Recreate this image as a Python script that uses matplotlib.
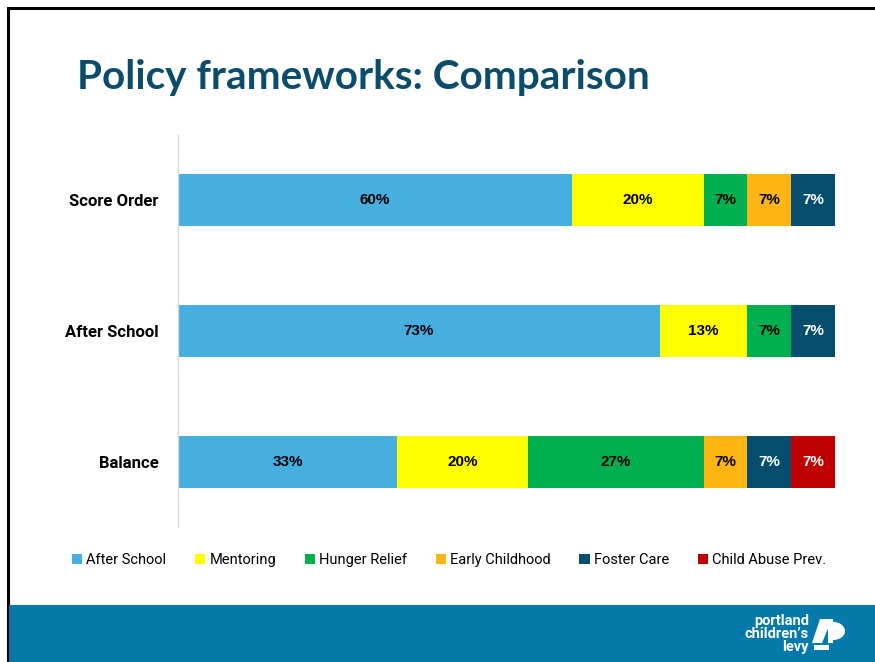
import matplotlib
matplotlib.use("Agg")
import matplotlib.pyplot as plt
from matplotlib.patches import Rectangle, Polygon, Wedge

# frameworks (rows, top to bottom) and program areas (stack order)
frameworks = ["Score Order", "After School", "Balance"]
programs = ["After School", "Mentoring", "Hunger Relief", "Early Childhood",
            "Foster Care", "Child Abuse Prev."]
colors = ["#47AFE0", "#FFFF00", "#00B050", "#FCB614", "#044D6D", "#C00000"]
label_colors = ["black", "black", "black", "black", "white", "white"]

# share of each program area in each framework (%)
score_order = [60.0, 20.0, 6.67, 6.67, 6.67, 0.0]
after_school = [73.33, 13.33, 6.67, 0.0, 6.67, 0.0]
balance = [33.33, 20.0, 26.67, 6.67, 6.67, 6.67]
shares = [score_order, after_school, balance]

W, H = 875, 662
fig = plt.figure(figsize=(W / 100, H / 100), dpi=100)

# slide frame and footer band
fig.patches.append(Rectangle((8 / W, 0), 1, 1 - 8 / H, transform=fig.transFigure,
                             fill=False, edgecolor="black", linewidth=2.2, zorder=0))
fig.patches.append(Rectangle((9 / W, 0), 1, 57 / H, transform=fig.transFigure,
                             facecolor="#0579A9", edgecolor="none", zorder=1))

fig.text(77 / W, 1 - 78 / H, "Policy frameworks: Comparison", fontsize=29.2,
         fontweight="bold", color="#0B4C6A", family="Lato", va="center", ha="left")

ax = fig.add_axes([178 / W, 135 / H, 657 / W, 392 / H])
ypos = list(range(len(frameworks)))[::-1]
for j, prog in enumerate(programs):
    lefts = [sum(row[:j]) for row in shares]
    vals = [row[j] for row in shares]
    bars = ax.barh(ypos, vals, left=lefts, height=0.4, color=colors[j],
                   label=prog, edgecolor="none")
    for b, v in zip(bars, vals):
        if v > 0:
            ax.text(b.get_x() + b.get_width() / 2, b.get_y() + b.get_height() / 2,
                    f"{v:.0f}%", ha="center", va="center", fontsize=11,
                    fontweight="bold", color=label_colors[j], family="Liberation Sans")

ax.set_xlim(0, 100)
ax.set_ylim(-0.5, 2.5)
ax.set_yticks(ypos)
ax.set_yticklabels(frameworks, fontsize=12, fontweight="bold", family="Roboto")
ax.tick_params(axis="y", length=0, pad=14)
ax.set_xticks([])
for s in ["top", "right", "bottom"]:
    ax.spines[s].set_visible(False)
ax.spines["left"].set_color("#D9D9D9")
ax.spines["left"].set_linewidth(1)

fig.legend(loc="center", bbox_to_anchor=(449 / W, 1 - 560 / H), ncol=6,
           frameon=False, handlelength=0.7, handleheight=0.7, handletextpad=0.3,
           columnspacing=1.95, prop={"family": "Roboto", "size": 10.5})

# footer logo
for txt, yy in [("portland", 621), ("children\u2019s", 634), ("levy", 647)]:
    fig.text(809 / W, 1 - yy / H, txt, color="white", fontsize=10.5,
             fontweight="bold", family="Roboto", ha="right", va="center")
fig.patches.append(Polygon([(820 / W, 1 - 619 / H), (832 / W, 1 - 619 / H),
                            (822 / W, 1 - 643 / H), (812 / W, 1 - 643 / H)],
                           closed=True, transform=fig.transFigure,
                           facecolor="white", edgecolor="none", zorder=2))
fig.patches.append(Rectangle((814 / W, 1 - 650 / H), 15 / W, 5 / H,
                             transform=fig.transFigure, facecolor="white",
                             edgecolor="none", zorder=2))
fig.patches.append(Rectangle((828 / W, 1 - 643 / H), 5 / W, 24 / H,
                             transform=fig.transFigure, facecolor="white",
                             edgecolor="none", zorder=2))
fig.patches.append(Wedge((833 / W, 1 - 631 / H), 12 / W, -90, 90,
                         transform=fig.transFigure, facecolor="white",
                         edgecolor="none", zorder=2))

fig.savefig("out.png", dpi=100)
